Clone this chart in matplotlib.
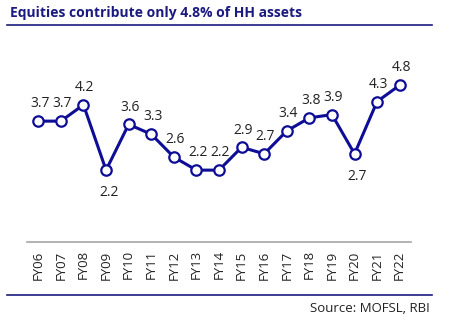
import matplotlib
matplotlib.use("Agg")
import matplotlib.pyplot as plt
from matplotlib.lines import Line2D

years = ["FY06", "FY07", "FY08", "FY09", "FY10", "FY11", "FY12", "FY13", "FY14",
         "FY15", "FY16", "FY17", "FY18", "FY19", "FY20", "FY21", "FY22"]
values = [3.7, 3.7, 4.2, 2.2, 3.6, 3.3, 2.6, 2.2, 2.2, 2.9, 2.7, 3.4, 3.8, 3.9, 2.7, 4.3, 4.8]
below = ["FY09", "FY20"]

plt.rcParams['font.family'] = ['Open Sans', 'DejaVu Sans']
navy = "#0D0D96"
W, H = 457, 330
fig = plt.figure(figsize=(W/100, H/100), dpi=100)
ax = fig.add_axes([27/W, 1-242/H, 384/W, 196/H])
x = list(range(len(years)))
ax.plot(x, values, color=navy, lw=2.2, marker='o', ms=7.5, mfc='white', mec=navy, mew=1.6, zorder=3)
for i, (lab, v) in enumerate(zip(years, values)):
    if lab in below:
        ax.annotate(f"{v:.1f}", (i, v), xytext=(2, -11), textcoords='offset points',
                    ha='center', va='top', fontsize=10, color='#222222')
    else:
        ax.annotate(f"{v:.1f}", (i, v), xytext=(1, 7), textcoords='offset points',
                    ha='center', va='bottom', fontsize=10, color='#222222')
ax.set_xlim(-0.5, len(years)-0.5)
ax.set_ylim(0, 6)
ax.set_xticks(x)
ax.set_xticklabels(years, rotation=90, fontsize=9.5, color='#222222')
ax.tick_params(axis='x', length=0, pad=6)
ax.set_yticks([])
for s in ['top', 'left', 'right']:
    ax.spines[s].set_visible(False)
ax.spines['bottom'].set_color('#A6A6A6')
ax.spines['bottom'].set_linewidth(1.2)

fig.text(10/W, 1-13/H, "Equities contribute only 4.8% of HH assets", fontsize=10,
         fontweight='bold', color='#1A1A80', ha='left', va='center')
fig.add_artist(Line2D([7/W, 432/W], [1-24.5/H, 1-24.5/H], color='#1A1A80', lw=1.2))
fig.add_artist(Line2D([7/W, 432/W], [1-295/H, 1-295/H], color='#1A1A80', lw=1.2))
fig.text(430/W, 1-309/H, "Source: MOFSL, RBI", fontsize=9.5, color='#222222', ha='right', va='center')
fig.savefig("out.png", dpi=100)
